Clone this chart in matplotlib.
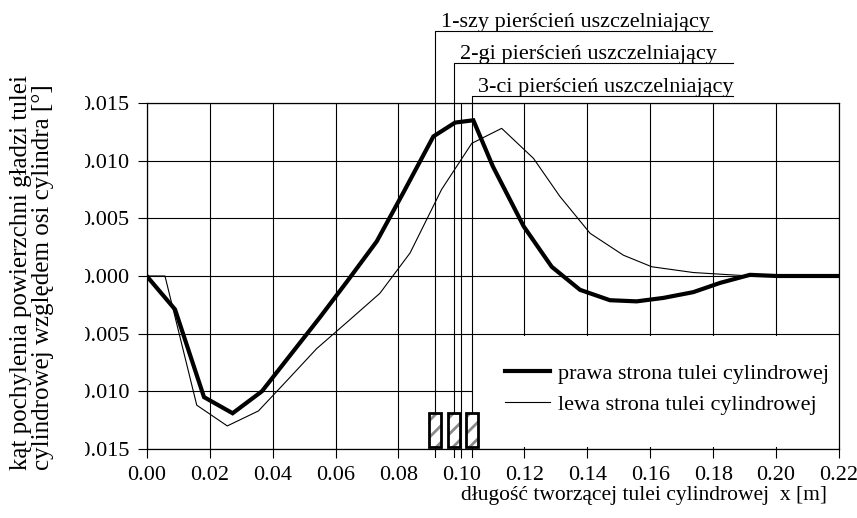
import numpy as np
import matplotlib
matplotlib.use("Agg")
import matplotlib.pyplot as plt
from matplotlib.patches import Rectangle
from matplotlib.ticker import FormatStrFormatter
from matplotlib.transforms import Bbox, TransformedBbox

plt.rcParams['font.family'] = ['Liberation Serif', 'DejaVu Serif']
plt.rcParams['font.size'] = 16

# ------------------------------- data ------------------------------- #

right_x = [0.0, 0.0090, 0.0182, 0.0273, 0.0366, 0.0458, 0.0550, 0.0636, 0.0731,
           0.0815, 0.0911, 0.0980, 0.1038, 0.1100, 0.1198, 0.1287, 0.1377, 0.1472,
           0.1557, 0.1642, 0.1737, 0.1822, 0.1917, 0.2002, 0.2100, 0.2200]
right_y = [0.0, -0.0029, -0.0105, -0.0119, -0.0100, -0.0068, -0.0036, -0.0005, 0.0030,
           0.0072, 0.0121, 0.0133, 0.0135, 0.0095, 0.0043, 0.0008, -0.0012, -0.0021,
           -0.0022, -0.0019, -0.0014, -0.0006, 0.0001, 0.0, 0.0, 0.0]

left_x = [0.0, 0.0058, 0.0159, 0.0256, 0.0355, 0.0448, 0.0540, 0.0641, 0.0741, 0.0837,
          0.0937, 0.1033, 0.1128, 0.1229, 0.1313, 0.1409, 0.1515, 0.1605, 0.1737,
          0.1917, 0.2200]
left_y = [0.0, 0.0, -0.0112, -0.0130, -0.0117, -0.0090, -0.0063, -0.0039, -0.0015, 0.0020,
          0.0075, 0.0115, 0.0128, 0.0102, 0.0069, 0.0037, 0.0018, 0.0008, 0.0003,
          0.0, 0.0]

ring_x = [0.0916, 0.0977, 0.1033]
ring_labels = ['1-szy pierścień uszczelniający',
               '2-gi pierścień uszczelniający',
               '3-ci pierścień uszczelniający']

series_labels = ['prawa strona tulei cylindrowej', 'lewa strona tulei cylindrowej']

xticks = [0.00, 0.02, 0.04, 0.06, 0.08, 0.10, 0.12, 0.14, 0.16, 0.18, 0.20, 0.22]
yticks = [-0.015, -0.010, -0.005, 0.000, 0.005, 0.010, 0.015]

xlabel = 'długość tworzącej tulei cylindrowej  x [m]'
ylabel = 'kąt pochylenia powierzchni gładzi tulei\ncylindrowej względem osi cylindra [°]'

# ------------------------------ figure ------------------------------ #

fig = plt.figure(figsize=(8.57, 5.18), dpi=100)
ax = fig.add_axes([0.1712, 0.1332, 0.8078, 0.668])

ax.set_xlim(0, 0.22)
ax.set_ylim(-0.015, 0.015)
ax.set_xticks(xticks)
ax.set_yticks(yticks)
ax.xaxis.set_major_formatter(FormatStrFormatter('%.2f'))
ax.yaxis.set_major_formatter(FormatStrFormatter('%.3f'))
ax.tick_params(direction='out', length=6.5, width=0.8, pad=6, labelsize=16)
ax.set_axisbelow(True)
ax.grid(True, color='black', linewidth=0.8)
for s in ax.spines.values():
    s.set_linewidth(0.9)

# white area behind the legend hides the grid
ax.add_patch(Rectangle((0.47, 0.006), 0.53, 0.321, transform=ax.transAxes,
                       facecolor='white', edgecolor='none', zorder=1.5))

l1, = ax.plot(right_x, right_y, color='black', linewidth=3.0, zorder=3,
              solid_joinstyle='miter')
l2, = ax.plot(left_x, left_y, color='black', linewidth=0.8, zorder=3)

# ring markers: leader lines + hatched boxes
lead_top = [0.02126, 0.01843, 0.01562]
lead_end = [0.1795, 0.1863, 0.1863]
for rx, top, end, lab in zip(ring_x, lead_top, lead_end, ring_labels):
    ax.plot([rx, rx, end], [-0.0157, top, top], color='black', linewidth=0.8,
            clip_on=False, zorder=2.5)
    ax.annotate(lab, xy=(rx, top), xytext=(4.5, 3), textcoords='offset points',
                ha='left', va='baseline', fontsize=16, annotation_clip=False)

plt.rcParams['hatch.linewidth'] = 2.0
ax.bar(ring_x, 0.0029, bottom=-0.0148, width=0.0038, color='white',
       edgecolor='#8a8a8a', hatch='//', linewidth=0, zorder=4)
ax.bar(ring_x, 0.0029, bottom=-0.0148, width=0.0038, fill=False,
       edgecolor='black', linewidth=2, zorder=5)

ax.legend([l1, l2], series_labels, loc='upper left',
          bbox_to_anchor=(0.5017, 0.279), frameon=False, borderpad=0,
          handlelength=2.0, handletextpad=0.4, labelspacing=0.45, fontsize=16)

ax.set_xlabel(xlabel, fontsize=15.5)
ax.xaxis.set_label_coords(0.718, -0.108)
fig.text(32 / 857, 1 - 470 / 518, ylabel, rotation=90, ha='center', va='bottom',
         multialignment='left', fontsize=18, linespacing=0.95)

# y tick labels are cut off on the left like in the original
clip = TransformedBbox(Bbox([[85 / 857, 0], [1, 1]]), fig.transFigure)
for t in ax.get_yticklabels():
    t.set_clip_on(True)
    t.set_clip_box(clip)

fig.savefig('out.png', dpi=100)
